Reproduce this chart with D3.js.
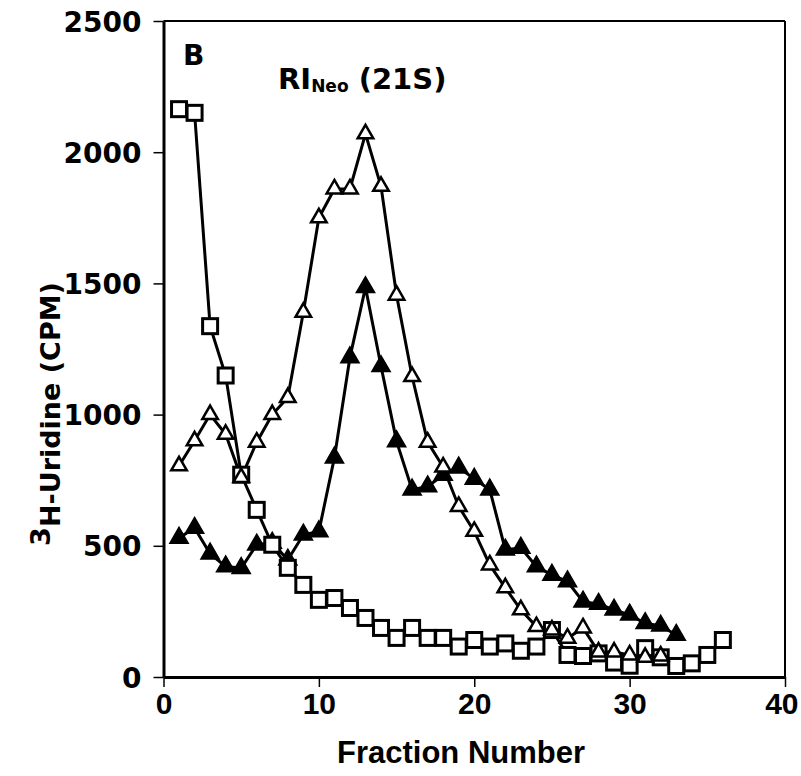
<!DOCTYPE html>
<html>
<head>
<meta charset="utf-8">
<script src="https://cdn.jsdelivr.net/npm/d3@7"></script>
<style>
  body { margin: 0; background: #fff; }
  svg { display: block; }
</style>
</head>
<body>
<div id="content"></div>
<script>
// fraction numbers
const fractions = d3.range(1, 37);

// open triangles
const openTri = [805, 900, 1000, 925, 760, 895, 1000, 1065, 1390, 1750,
  1860, 1860, 2070, 1870, 1455, 1145, 895, 800, 650, 555,
  427, 340, 256, 192, 179, 148, 187, 95, 95, 84, 75, 80];

// filled triangles
const filledTri = [530, 568, 470, 421, 415, 504, 511, 447, 542, 555,
  836, 1218, 1485, 1184, 898, 714, 726, 770, 798, 755,
  714, 485, 492, 421, 389, 364, 287, 278, 256, 237, 205, 195, 160];

// open squares
const squares = [2164, 2150, 1337, 1149, 771, 637, 504, 416, 351, 294,
  301, 263, 225, 187, 149, 187, 149, 149, 116, 141,
  116, 128, 100, 116, 179, 84, 80, 90, 55, 43, 110, 75, 42, 52, 84, 141];

const xTicks = [0, 10, 20, 30, 40];
const yTicks = [0, 500, 1000, 1500, 2000, 2500];

const width = 801, height = 776;
const bold = '"DejaVu Sans", sans-serif';
const arial = '"Liberation Sans", Arial, sans-serif';

let svg = d3.select('#content').append('svg')
  .attr('width', width)
  .attr('height', height);

let x = d3.scaleLinear().domain([0, 40]).range([163.5, 785]);
let y = d3.scaleLinear().domain([0, 2500]).range([677, 21]);

// frame top / right
svg.append('line')
  .attr('x1', x(0)).attr('x2', x(40))
  .attr('y1', y(2500)).attr('y2', y(2500))
  .attr('stroke', '#000').attr('stroke-width', 2);
svg.append('line')
  .attr('x1', x(40)).attr('x2', x(40))
  .attr('y1', y(2500)).attr('y2', y(0))
  .attr('stroke', '#000').attr('stroke-width', 2);

// axes
let yAxis = svg.append('g')
  .attr('transform', `translate(${x(0)},0)`)
  .call(d3.axisLeft(y).tickValues(yTicks).tickFormat(d3.format('d'))
    .tickSize(10).tickSizeOuter(0).tickPadding(12));
yAxis.select('.domain').attr('stroke-width', 3);
yAxis.selectAll('.tick line').attr('stroke-width', 1.5);
yAxis.selectAll('.tick text')
  .attr('font-family', bold)
  .attr('font-weight', 'bold')
  .attr('font-size', 28)
  .attr('dy', '0.36em')
  .attr('fill', '#000');

let xAxis = svg.append('g')
  .attr('transform', `translate(0,${y(0)})`)
  .call(d3.axisBottom(x).tickValues(xTicks).tickFormat(d3.format('d'))
    .tickSize(10).tickSizeOuter(0).tickPadding(6));
xAxis.select('.domain').attr('stroke-width', 3);
xAxis.selectAll('.tick line').attr('stroke-width', 1.5);
xAxis.selectAll('.tick text')
  .attr('font-family', arial)
  .attr('font-weight', 'bold')
  .attr('font-size', 30)
  .attr('fill', '#000');
// last label sits against the right edge, as in the reference
xAxis.selectAll('.tick text').filter(d => d === 40)
  .attr('text-anchor', 'end')
  .attr('x', 13);

// axis titles
svg.append('text')
  .attr('x', 461)
  .attr('y', 763)
  .attr('text-anchor', 'middle')
  .attr('font-family', arial)
  .attr('font-weight', 'bold')
  .attr('font-size', 31)
  .text('Fraction Number');

let ylab = svg.append('text')
  .attr('transform', 'translate(60,414) rotate(-90)')
  .attr('text-anchor', 'middle')
  .attr('font-family', bold)
  .attr('font-weight', 'bold')
  .attr('font-size', 27);
ylab.append('tspan').attr('dy', -10).text('3');
ylab.append('tspan').attr('dy', 10).text('H-Uridine (CPM)');

// panel letter and label
svg.append('text')
  .attr('x', 183).attr('y', 65)
  .attr('font-family', bold)
  .attr('font-weight', 'bold')
  .attr('font-size', 28)
  .text('B');

let lab = svg.append('text')
  .attr('x', 278).attr('y', 89)
  .attr('font-family', bold)
  .attr('font-weight', 'bold')
  .attr('font-size', 29);
lab.append('tspan').text('RI');
lab.append('tspan').attr('font-size', 17).attr('dy', 3).text('Neo');
lab.append('tspan').attr('dy', -3).text(' (21S)');

// series
let line = d3.line()
  .x(d => x(d[0]))
  .y(d => y(d[1]));

function pairs(values) {
  return values.map((v, i) => [fractions[i], v]);
}

function drawLine(values) {
  svg.append('path')
    .datum(pairs(values))
    .attr('d', line)
    .attr('fill', 'none')
    .attr('stroke', '#000')
    .attr('stroke-width', 3);
}

drawLine(filledTri);
drawLine(squares);
drawLine(openTri);

// filled triangles
svg.append('g').selectAll('path')
  .data(pairs(filledTri))
  .join('path')
  .attr('transform', d => `translate(${x(d[0])},${y(d[1])})`)
  .attr('d', d3.symbol(d3.symbolTriangle, 145))
  .attr('fill', '#000')
  .attr('stroke', '#000')
  .attr('stroke-width', 1.5);

// squares
svg.append('g').selectAll('rect')
  .data(pairs(squares))
  .join('rect')
  .attr('x', d => x(d[0]) - 7.5)
  .attr('y', d => y(d[1]) - 7.5)
  .attr('width', 15)
  .attr('height', 15)
  .attr('fill', '#fff')
  .attr('stroke', '#000')
  .attr('stroke-width', 3);

// open triangles
svg.append('g').selectAll('path')
  .data(pairs(openTri))
  .join('path')
  .attr('transform', d => `translate(${x(d[0])},${y(d[1])})`)
  .attr('d', d3.symbol(d3.symbolTriangle, 105))
  .attr('fill', '#fff')
  .attr('stroke', '#000')
  .attr('stroke-width', 2.5);
</script>
</body>
</html>
